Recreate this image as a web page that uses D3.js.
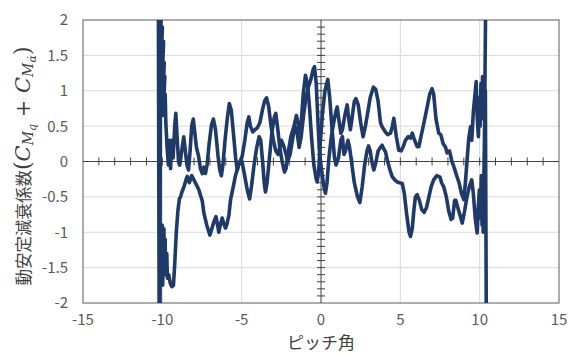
<!DOCTYPE html>
<html><head><meta charset="utf-8">
<script src="https://cdn.jsdelivr.net/npm/d3@7/dist/d3.min.js"></script>
<style>
body{margin:0;background:#fff;}
svg{display:block;}
</style></head>
<body>
<svg id="c" width="569" height="354"></svg>
<script>
// ---- data ----
const xTicks = [-15, -10, -5, 0, 5, 10, 15];
const yTicks = [-2, -1.5, -1, -0.5, 0, 0.5, 1, 1.5, 2];
const xTitle = "ピッチ角";
const yTitleText = "動安定減衰係数";

// outgoing branch (left -> right)
const branchA = [
 [-10.15,-2.3],[-10.12,2.3],[-10.22,1.0],[-10.05,2.2],[-10.2,1.4],[-10.0,1.9],[-10.14,0.8],[-9.92,1.7],[-10.08,0.7],
 [-9.88,1.4],[-10.0,0.65],[-9.84,1.2],[-9.95,0.7],[-9.82,0.95],[-9.78,0.55],
 [-9.7,0.2],[-9.62,-0.05],[-9.55,0.3],[-9.48,-0.1],[-9.4,0.3],[-9.32,0.05],[-9.22,0.5],[-9.15,0.68],[-9.07,0.35],
 [-8.98,0.0],[-8.9,-0.05],[-8.78,0.15],[-8.65,0.35],[-8.55,0.15],[-8.45,-0.05],[-8.35,-0.12],[-8.25,0.15],[-8.15,0.5],
 [-8.05,0.6],[-7.95,0.4],[-7.85,0.2],[-7.72,0.08],[-7.6,-0.1],[-7.48,-0.17],[-7.38,-0.08],[-7.28,-0.17],[-7.18,-0.05],
 [-7.05,0.25],[-6.9,0.52],[-6.78,0.6],[-6.65,0.45],[-6.5,0.1],[-6.38,-0.12],[-6.28,-0.2],[-6.18,-0.05],[-6.05,0.3],
 [-5.9,0.62],[-5.78,0.82],[-5.65,0.72],[-5.5,0.35],[-5.38,0.05],[-5.28,-0.12],[-5.15,-0.02],[-5.0,0.02],[-4.85,-0.15],
 [-4.65,-0.4],[-4.5,-0.53],[-4.38,-0.35],[-4.22,-0.05],[-4.05,0.2],[-3.9,0.35],[-3.8,0.3],[-3.68,0.0],[-3.58,-0.3],
 [-3.5,-0.43],[-3.4,-0.3],[-3.25,0.05],[-3.1,0.4],[-2.95,0.62],[-2.85,0.68],[-2.72,0.45],[-2.6,0.2],[-2.45,0.0],
 [-2.3,-0.15],[-2.2,-0.1],[-2.05,0.15],[-1.9,0.35],[-1.7,0.5],[-1.55,0.65],[-1.45,0.55],[-1.35,0.4],[-1.25,0.55],
 [-1.12,0.95],[-0.98,1.22],[-0.85,1.1],[-0.72,0.75],[-0.6,0.35],[-0.45,-0.05],[-0.3,-0.25],[-0.24,-0.29],[-0.15,-0.15],
 [-0.05,0.25],[0.1,0.7],[0.25,1.0],[0.43,1.16],[0.55,0.9],[0.7,0.45],[0.85,0.05],[0.95,-0.05],[1.1,0.05],[1.25,0.3],
 [1.35,0.35],[1.45,0.1],[1.55,0.15],[1.7,0.3],[1.8,0.2],[1.95,-0.05],[2.1,-0.3],[2.3,-0.5],[2.45,-0.58],[2.6,-0.35],
 [2.75,-0.05],[2.9,0.15],[3.0,0.22],[3.1,0.15],[3.2,0.0],[3.33,-0.12],[3.45,-0.02],[3.6,0.15],[3.75,0.2],[3.85,0.23],
 [3.95,0.18],[4.06,0.14],[4.2,0.0],[4.35,-0.12],[4.48,-0.21],[4.65,-0.26],[4.8,-0.29],[4.95,-0.3],[5.12,-0.31],
 [5.25,-0.45],[5.4,-0.75],[5.55,-1.0],[5.64,-1.06],[5.75,-0.95],[5.85,-0.7],[5.95,-0.5],[6.06,-0.47],[6.2,-0.55],
 [6.35,-0.68],[6.5,-0.72],[6.65,-0.65],[6.8,-0.5],[6.95,-0.35],[7.1,-0.26],[7.3,-0.2],[7.5,-0.22],[7.6,-0.3],
 [7.74,-0.36],[7.9,-0.5],[8.05,-0.7],[8.2,-0.82],[8.3,-0.8],[8.42,-0.55],[8.5,-0.55],[8.62,-0.65],[8.75,-0.75],
 [8.9,-0.87],[9.05,-0.7],[9.2,-0.5],[9.35,-0.35],[9.5,-0.26],[9.6,-0.45],[9.72,-0.8],[9.84,-1.01],[9.9,-0.7],
 [9.98,-0.4],[10.05,-0.8],[10.1,-0.2],[10.15,-0.9],[10.2,-0.4],[10.22,-1.0],[10.26,-0.3],[10.3,0.3],[10.38,2.3]
];

// return branch (left end -> right end)
const branchB = [
 [-10.25,2.3],[-10.2,-2.3],[-10.12,-0.95],[-10.08,-1.7],[-10.0,-0.9],[-10.05,-1.5],[-9.95,-1.0],[-9.98,-1.75],
 [-9.9,-0.95],[-9.88,-1.55],[-9.82,-1.1],[-9.8,-1.6],[-9.72,-1.3],[-9.68,-1.65],[-9.6,-1.6],[-9.5,-1.72],
 [-9.4,-1.77],[-9.3,-1.75],[-9.22,-1.45],
 [-9.12,-1.0],[-9.02,-0.7],[-8.92,-0.52],[-8.85,-0.5],[-8.75,-0.42],[-8.64,-0.36],[-8.5,-0.25],[-8.43,-0.21],
 [-8.3,-0.3],[-8.15,-0.2],[-8.01,-0.26],[-7.85,-0.33],[-7.7,-0.4],[-7.59,-0.48],[-7.48,-0.56],[-7.38,-0.73],
 [-7.2,-0.9],[-7.0,-1.04],[-6.88,-0.95],[-6.75,-0.85],[-6.62,-0.78],[-6.52,-0.9],[-6.44,-1.0],[-6.33,-0.88],
 [-6.23,-0.8],[-6.12,-0.88],[-6.02,-0.94],[-5.92,-0.88],[-5.8,-0.75],[-5.7,-0.54],[-5.55,-0.38],[-5.39,-0.2],
 [-5.2,-0.05],[-4.97,0.07],[-4.8,0.3],[-4.65,0.55],[-4.55,0.63],[-4.45,0.5],[-4.3,0.42],[-4.15,0.45],[-4.0,0.48],
 [-3.85,0.55],[-3.7,0.72],[-3.55,0.86],[-3.43,0.9],[-3.3,0.78],[-3.15,0.5],[-3.0,0.3],[-2.85,0.15],[-2.7,0.1],
 [-2.6,0.2],[-2.5,0.3],[-2.35,0.22],[-2.2,0.1],[-2.1,0.0],[-1.95,0.1],[-1.8,0.3],[-1.65,0.5],[-1.5,0.4],
 [-1.38,0.2],[-1.25,0.35],[-1.1,0.65],[-0.95,0.9],[-0.8,1.05],[-0.65,1.15],[-0.5,1.3],[-0.41,1.34],[-0.3,1.1],
 [-0.2,0.6],[-0.1,0.15],[0.05,-0.15],[0.18,-0.35],[0.28,-0.45],[0.38,-0.3],[0.5,0.05],[0.65,0.35],[0.8,0.55],
 [0.95,0.72],[1.02,0.77],[1.12,0.6],[1.25,0.4],[1.35,0.45],[1.5,0.65],[1.65,0.8],[1.75,0.6],[1.85,0.45],
 [1.95,0.6],[2.1,0.85],[2.2,0.89],[2.35,0.8],[2.5,0.55],[2.65,0.35],[2.8,0.5],[2.95,0.7],[3.1,0.9],[3.3,1.05],
 [3.45,1.02],[3.6,0.85],[3.75,0.55],[3.85,0.49],[4.05,0.42],[4.2,0.38],[4.38,0.4],[4.5,0.5],[4.59,0.61],
 [4.75,0.35],[4.9,0.16],[5.05,0.15],[5.2,0.22],[5.32,0.3],[5.5,0.35],[5.65,0.33],[5.75,0.4],[5.9,0.3],
 [6.06,0.21],[6.17,0.21],[6.3,0.35],[6.48,0.54],[6.69,0.77],[6.85,0.95],[7.0,1.03],[7.1,0.95],[7.25,0.6],
 [7.42,0.4],[7.55,0.38],[7.7,0.25],[7.85,0.2],[7.95,0.12],[8.1,0.15],[8.25,0.0],[8.37,-0.07],[8.55,-0.2],
 [8.7,-0.3],[8.85,-0.45],[9.0,-0.54],[9.1,-0.3],[9.2,0.0],[9.3,0.3],[9.42,0.49],[9.5,0.3],[9.6,0.7],[9.78,1.13],
 [9.85,0.6],[9.92,0.35],[9.98,0.9],[10.03,0.5],[10.08,1.1],[10.12,0.6],[10.18,1.2],[10.22,0.7],[10.26,0.99],
 [10.3,0.6],[10.36,1.0],[10.42,-2.3]
];

// ---- drawing ----
const svg = d3.select("#c");
const L = 83, R = 559, T = 20, B = 303;
const x = d3.scaleLinear().domain([-15, 15]).range([L, R]);
const y = d3.scaleLinear().domain([-2, 2]).range([B, T]);
const labelFont = "'Noto Sans CJK JP','Noto Sans',sans-serif";

// gridlines
svg.append("g").selectAll("line").data(yTicks.filter(v => v !== 0 && Math.abs(v) !== 2)).join("line")
  .attr("x1", L).attr("x2", R).attr("y1", d => y(d)).attr("y2", d => y(d))
  .attr("stroke", "#d9d9d9").attr("stroke-width", 1);
svg.append("g").selectAll("line").data(xTicks.filter(v => v !== 0 && Math.abs(v) !== 15)).join("line")
  .attr("y1", T).attr("y2", B).attr("x1", d => x(d)).attr("x2", d => x(d))
  .attr("stroke", "#d9d9d9").attr("stroke-width", 1);

// plot border
svg.append("rect").attr("x", L).attr("y", T).attr("width", R - L).attr("height", B - T)
  .attr("fill", "none").attr("stroke", "#808080").attr("stroke-width", 1.3);

// centre axes with crossing ticks
const ax = svg.append("g").attr("stroke", "#404040").attr("stroke-width", 1);
ax.append("line").attr("x1", L).attr("x2", R).attr("y1", y(0)).attr("y2", y(0));
ax.append("line").attr("x1", x(0)).attr("x2", x(0)).attr("y1", T).attr("y2", B);
const xMinor = d3.range(-14, 15, 1).filter(v => v !== 0);
ax.selectAll(".xt").data(xMinor).join("line").attr("class", "xt")
  .attr("x1", d => x(d)).attr("x2", d => x(d)).attr("y1", y(0) - 4).attr("y2", y(0) + 4);
const yMinor = d3.range(-19, 20, 1).map(v => v / 10).filter(v => v !== 0);
ax.selectAll(".yt").data(yMinor).join("line").attr("class", "yt")
  .attr("y1", d => y(d)).attr("y2", d => y(d)).attr("x1", x(0) - 4).attr("x2", x(0) + 4);

// data lines
svg.append("clipPath").attr("id", "clip").append("rect")
  .attr("x", L).attr("y", T).attr("width", R - L).attr("height", B - T);
const line = d3.line().x(d => x(d[0])).y(d => y(d[1]));
const g = svg.append("g").attr("clip-path", "url(#clip)");
[branchA, branchB].forEach(b => {
  g.append("path").attr("d", line(b)).attr("fill", "none")
    .attr("stroke", "#1f3a68").attr("stroke-width", 3.6)
    .attr("stroke-linejoin", "round").attr("stroke-linecap", "round");
});

// tick labels
svg.append("g").selectAll("text").data(yTicks).join("text")
  .attr("x", 68).attr("y", d => y(d)).attr("dy", "0.36em").attr("text-anchor", "end")
  .attr("font-family", labelFont).attr("font-size", 15).attr("fill", "#595959")
  .text(d => d);
svg.append("g").selectAll("text").data(xTicks).join("text")
  .attr("x", d => x(d)).attr("y", 325).attr("text-anchor", "middle")
  .attr("font-family", labelFont).attr("font-size", 15).attr("fill", "#595959")
  .text(d => d);

// axis titles
svg.append("text").attr("x", x(0)).attr("y", 349).attr("text-anchor", "middle")
  .attr("font-family", labelFont).attr("font-size", 17).attr("fill", "#404040").text(xTitle);

const yt = svg.append("text").attr("transform", "translate(30,166) rotate(-90)")
  .attr("text-anchor", "middle").attr("font-size", 16.5).attr("fill", "#404040")
  .attr("font-family", labelFont);
yt.append("tspan").text(yTitleText);
const mathFont = "'DejaVu Serif','Liberation Serif',serif";
yt.append("tspan").attr("font-family", mathFont).attr("font-size", 22).text("(");
yt.append("tspan").attr("font-family", mathFont).attr("font-style", "italic").attr("font-size", 21).text("C");
yt.append("tspan").attr("font-family", mathFont).attr("font-style", "italic").attr("font-size", 14).attr("dy", 3).text("M");
yt.append("tspan").attr("font-family", mathFont).attr("font-style", "italic").attr("font-size", 11).attr("dy", 3).text("q");
yt.append("tspan").attr("font-family", mathFont).attr("font-size", 21).attr("dy", -6).text(" + ");
yt.append("tspan").attr("font-family", mathFont).attr("font-style", "italic").attr("font-size", 21).text("C");
yt.append("tspan").attr("font-family", mathFont).attr("font-style", "italic").attr("font-size", 14).attr("dy", 3).text("M");
yt.append("tspan").attr("font-family", mathFont).attr("font-style", "italic").attr("font-size", 11).attr("dy", 3).text("α\u0307");
yt.append("tspan").attr("font-family", mathFont).attr("font-size", 22).attr("dy", -6).text(")");
</script>
</body></html>
